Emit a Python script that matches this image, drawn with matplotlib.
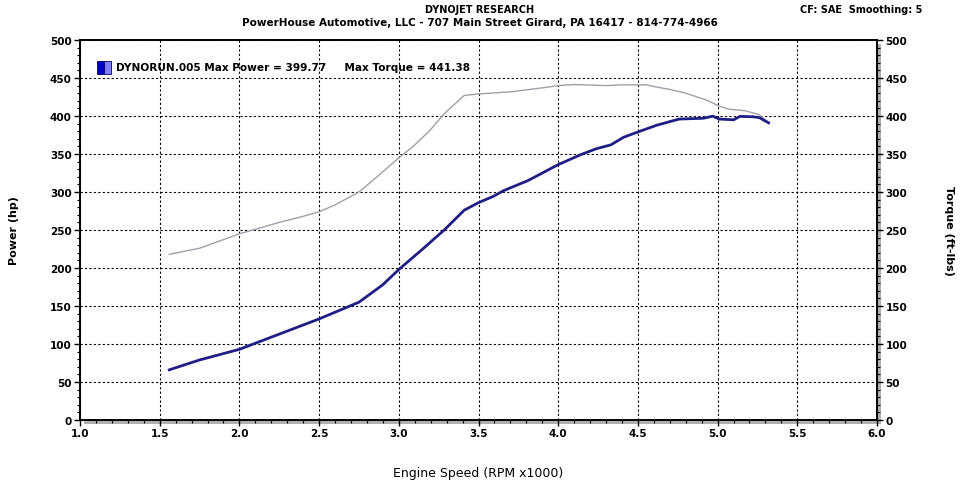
import matplotlib.pyplot as plt
from matplotlib.patches import Rectangle
from matplotlib.ticker import MultipleLocator

# engine speed (RPM x1000) and readings off the dyno sheet
rpm_tq = [1.56, 1.75, 2.0, 2.25, 2.4, 2.5, 2.6, 2.75, 2.875, 3.0, 3.09, 3.19, 3.29, 3.41,
          3.5, 3.71, 3.9, 4.0, 4.1, 4.3, 4.4, 4.55, 4.62, 4.7, 4.8, 4.93, 5.01, 5.07,
          5.17, 5.26, 5.32]
torque = [218, 226, 245, 260, 268, 274, 283, 300, 322, 345, 360, 380, 404, 427,
          429, 432, 437, 440, 441.4, 440, 441, 441, 438, 435, 430, 421, 413, 409,
          407, 402, 391]

rpm_hp = [1.56, 1.75, 2.0, 2.25, 2.5, 2.75, 2.9, 3.0, 3.15, 3.29, 3.41, 3.5, 3.59, 3.66,
          3.81, 4.0, 4.14, 4.24, 4.33, 4.41, 4.5, 4.62, 4.76, 4.91, 4.97, 5.01, 5.1,
          5.14, 5.22, 5.26, 5.32]
power = [66, 79, 93, 113, 133, 155, 178, 198, 225, 251, 276, 286, 294, 302,
         315, 336, 349, 357, 362, 372, 379, 388, 396, 397, 399.77, 396, 395,
         399.5, 399, 398, 391]

x_ticks = [1.0, 1.5, 2.0, 2.5, 3.0, 3.5, 4.0, 4.5, 5.0, 5.5, 6.0]
y_ticks = [0, 50, 100, 150, 200, 250, 300, 350, 400, 450, 500]

plt.rcParams['font.family'] = 'DejaVu Sans'
plt.rcParams['font.size'] = 7

fig = plt.figure(figsize=(9.6, 4.89), dpi=100, facecolor='white')
pos = [80 / 960, 68 / 489, 797 / 960, 380 / 489]

# grey drop shadow behind the plot frame
shadow = Rectangle((pos[0] + 4 / 960, pos[1] - 4 / 489), pos[2], pos[3],
                   transform=fig.transFigure, facecolor='#b0b0b0',
                   edgecolor='none', zorder=-1)
fig.patches.append(shadow)

ax = fig.add_axes(pos)
ax.set_zorder(1)
ax.set_facecolor('white')
ax.plot(rpm_tq, torque, color='#a0a0a8', lw=1.0, zorder=3)
ax.plot(rpm_hp, power, color='#1e1e84', lw=2.0, zorder=4)

ax.set_xlim(1.0, 6.0)
ax.set_ylim(0, 500)
ax.set_xticks(x_ticks)
ax.set_yticks(y_ticks)
ax.xaxis.set_minor_locator(MultipleLocator(0.1))
ax.yaxis.set_minor_locator(MultipleLocator(10))
ax.grid(True, which='major', color='black', linestyle=(0, (2, 2)), lw=0.8)
ax.tick_params(which='major', length=4, width=1, labelsize=7.5, pad=2)
ax.tick_params(which='minor', length=2.5, width=0.8)
for lab in ax.get_xticklabels() + ax.get_yticklabels():
    lab.set_fontweight('bold')
for s in ax.spines.values():
    s.set_linewidth(1.2)

ax2 = ax.twinx()
ax2.set_ylim(0, 500)
ax2.set_yticks(y_ticks)
ax2.yaxis.set_minor_locator(MultipleLocator(10))
ax2.tick_params(which='major', length=4, width=1, labelsize=7.5, pad=2)
ax2.tick_params(which='minor', length=2.5, width=0.8)
for lab in ax2.get_yticklabels():
    lab.set_fontweight('bold')
for s in ax2.spines.values():
    s.set_linewidth(1.2)

ax.set_ylabel('Power (hp)', fontweight='bold', fontsize=8, labelpad=22)
ax2.set_ylabel('Torque (ft-lbs)', fontweight='bold', fontsize=8, rotation=270, labelpad=34)
ax.set_xlabel('Engine Speed (RPM x1000)', fontsize=9, labelpad=20)

# legend swatch and text
ax.add_patch(Rectangle((0.021, 0.91), 0.009, 0.035, transform=ax.transAxes,
                       facecolor='#0000c8', edgecolor='#000060', lw=0.6, zorder=5))
ax.add_patch(Rectangle((0.030, 0.91), 0.009, 0.035, transform=ax.transAxes,
                       facecolor='#8080ff', edgecolor='#000060', lw=0.6, zorder=5))
ax.text(0.045, 0.928, 'DYNORUN.005 Max Power = 399.77     Max Torque = 441.38',
        transform=ax.transAxes, fontsize=7.6, fontweight='bold', va='center', zorder=5)

fig.text(0.5, 1 - 10 / 489, 'DYNOJET RESEARCH', ha='center', va='center',
         fontsize=7, fontweight='bold')
fig.text(0.5, 1 - 23 / 489, 'PowerHouse Automotive, LLC - 707 Main Street Girard, PA 16417 - 814-774-4966',
         ha='center', va='center', fontsize=7.5, fontweight='bold')
fig.text(1 - 38 / 960, 1 - 10 / 489, 'CF: SAE  Smoothing: 5', ha='right', va='center',
         fontsize=7, fontweight='bold')

fig.savefig('out.png', dpi=100)
